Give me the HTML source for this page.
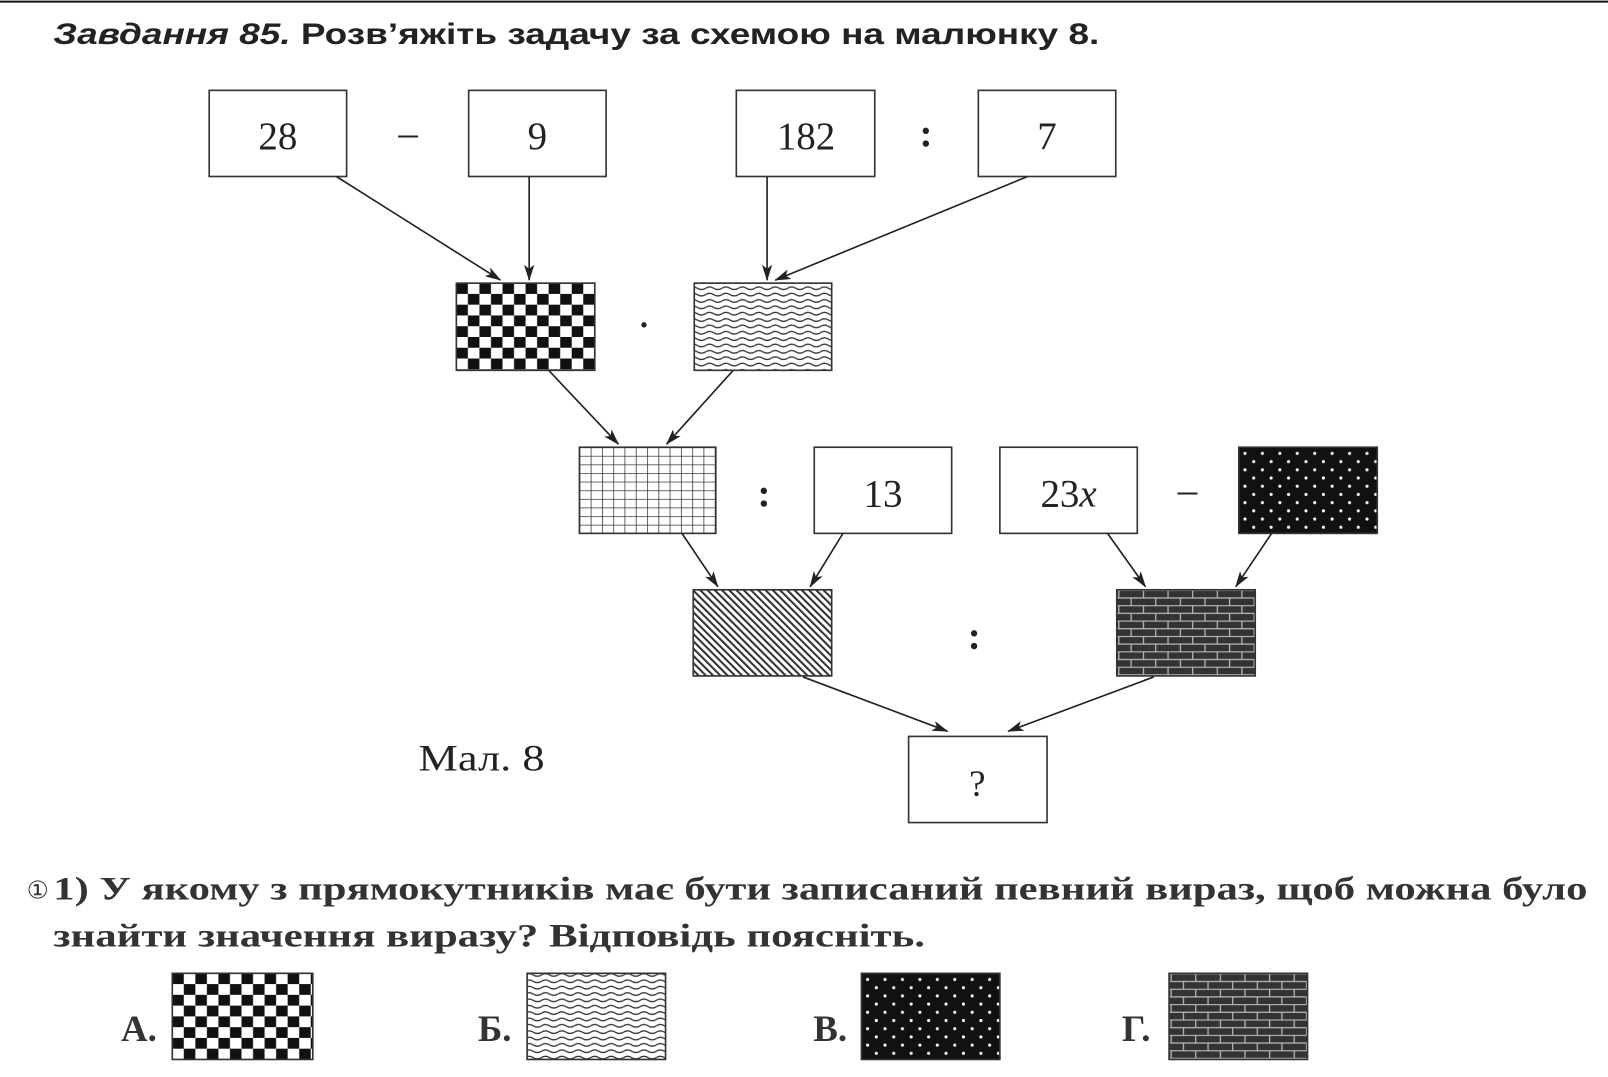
<!DOCTYPE html>
<html><head><meta charset="utf-8"><style>html,body{margin:0;padding:0;background:#fff}svg{display:block}</style></head><body>
<svg width="1608" height="1077" viewBox="0 0 1568 1050" xmlns="http://www.w3.org/2000/svg">
<defs>
<pattern id="chk" width="22.5" height="21" patternUnits="userSpaceOnUse" x="445" y="276">
<rect width="22.5" height="21" fill="#fff"/><rect width="11.25" height="10.5" fill="#111"/><rect x="11.25" y="10.5" width="11.25" height="10.5" fill="#111"/></pattern>
<pattern id="chk2" width="22.5" height="21" patternUnits="userSpaceOnUse" x="168" y="949">
<rect width="22.5" height="21" fill="#fff"/><rect width="11.25" height="10.5" fill="#111"/><rect x="11.25" y="10.5" width="11.25" height="10.5" fill="#111"/></pattern>
<pattern id="wav" width="16" height="6.2" patternUnits="userSpaceOnUse" y="278">
<rect width="16" height="6.2" fill="#fff"/><path d="M0 3 Q4 0.5 8 3 T16 3" fill="none" stroke="#333" stroke-width="1.3"/></pattern>
<pattern id="grd" width="11" height="8.4" patternUnits="userSpaceOnUse" x="565" y="436">
<rect width="11" height="8.4" fill="#fff"/><path d="M0 0H11M0 0V8.4" stroke="#333" stroke-width="1.5"/></pattern>
<pattern id="hat" width="5" height="5" patternUnits="userSpaceOnUse" patternTransform="rotate(-45)">
<rect width="5" height="5" fill="#fff"/><rect width="2" height="5" fill="#333"/></pattern>
<pattern id="dot" width="17" height="16" patternUnits="userSpaceOnUse" x="1208" y="436">
<rect width="17" height="16" fill="#111"/><circle cx="6" cy="6" r="1.5" fill="#fff"/><circle cx="14.5" cy="14" r="1.5" fill="#fff"/></pattern>
<pattern id="dot2" width="17" height="16" patternUnits="userSpaceOnUse" x="840" y="949">
<rect width="17" height="16" fill="#111"/><circle cx="6" cy="6" r="1.5" fill="#fff"/><circle cx="14.5" cy="14" r="1.5" fill="#fff"/></pattern>
<pattern id="brk" width="24" height="15" patternUnits="userSpaceOnUse" x="1089" y="575">
<rect width="24" height="15" fill="#333"/><path d="M0 0.5H24M0 8H24M2 0.5V8M14 8V15" stroke="#bbb" stroke-width="1.2"/></pattern>
<pattern id="brk2" width="24" height="15" patternUnits="userSpaceOnUse" x="1140" y="949">
<rect width="24" height="15" fill="#333"/><path d="M0 0.5H24M0 8H24M2 0.5V8M14 8V15" stroke="#bbb" stroke-width="1.2"/></pattern>
<marker id="ar" markerWidth="16" markerHeight="10" refX="15" refY="5" orient="auto" markerUnits="userSpaceOnUse"><path d="M0 0L16 5L0 10L4 5Z" fill="#222"/></marker>
</defs>
<line x1="0" y1="1.5" x2="1568" y2="1.5" stroke="#111" stroke-width="2"/>
<text x="52" y="43" font-family="Liberation Sans, sans-serif" font-weight="bold" font-size="29" fill="#222" textLength="1020" lengthAdjust="spacingAndGlyphs"><tspan font-style="italic">Завдання 85.</tspan> Розв’яжіть задачу за схемою на малюнку 8.</text>
<g fill="#fff" stroke="#333" stroke-width="1.6">
<rect x="204" y="88" width="134" height="84"/><rect x="457" y="88" width="134" height="84"/>
<rect x="718" y="88" width="135" height="84"/><rect x="954" y="88" width="134" height="84"/>
<rect x="445" y="276" width="135" height="85" fill="url(#chk)"/><rect x="677" y="276" width="134" height="85" fill="url(#wav)"/>
<rect x="565" y="436" width="133" height="84" fill="url(#grd)"/><rect x="794" y="436" width="134" height="84"/>
<rect x="975" y="436" width="134" height="84"/><rect x="1208" y="436" width="135" height="84" fill="url(#dot)"/>
<rect x="676" y="575" width="135" height="84" fill="url(#hat)"/><rect x="1089" y="575" width="135" height="84" fill="url(#brk)"/>
<rect x="886" y="718" width="135" height="84"/>
<rect x="168" y="949" width="137" height="84" fill="url(#chk2)"/><rect x="514" y="949" width="135" height="84" fill="url(#wav)"/>
<rect x="840" y="949" width="135" height="84" fill="url(#dot2)"/><rect x="1140" y="949" width="135" height="84" fill="url(#brk2)"/>
</g>
<g stroke="#222" stroke-width="1.6" marker-end="url(#ar)">
<line x1="328" y1="172" x2="488" y2="273"/><line x1="516" y1="172" x2="516" y2="273"/>
<line x1="748" y1="172" x2="748" y2="273"/><line x1="1002" y1="172" x2="756" y2="273"/>
<line x1="535" y1="361" x2="603" y2="433"/><line x1="715" y1="361" x2="650" y2="433"/>
<line x1="665" y1="520" x2="700" y2="572"/><line x1="822" y1="520" x2="790" y2="572"/>
<line x1="1080" y1="520" x2="1117" y2="572"/><line x1="1240" y1="520" x2="1205" y2="572"/>
<line x1="783" y1="660" x2="924" y2="713"/><line x1="1125" y1="660" x2="983" y2="713"/>
</g>
<g font-family="Liberation Serif, serif" font-size="38" fill="#222" text-anchor="middle">
<text x="271" y="145">28</text><text x="524" y="145">9</text><text x="786" y="145">182</text><text x="1021" y="145">7</text>
<text x="398" y="142">–</text><text x="903" y="143" font-weight="bold">:</text>
<text x="628" y="327" font-size="32" font-weight="bold">·</text>
<text x="745" y="494" font-weight="bold">:</text><text x="861" y="494">13</text><text x="1042" y="494">23<tspan font-style="italic">x</tspan></text><text x="1158" y="490">–</text>
<text x="950" y="633" font-weight="bold">:</text><text x="953" y="776" font-size="36">?</text>
</g>
<text x="408" y="751" font-family="Liberation Serif, serif" font-size="36" fill="#222" textLength="123" lengthAdjust="spacingAndGlyphs">Мал. 8</text>
<g font-family="Liberation Serif, serif" font-size="32" font-weight="bold" fill="#333">
<text x="26" y="876" font-weight="normal" font-family="DejaVu Sans, sans-serif" font-size="24">①</text>
<text x="52" y="877" textLength="1496" lengthAdjust="spacingAndGlyphs">1) У якому з прямокутників має бути записаний певний вираз, щоб можна було</text>
<text x="52" y="923" textLength="850" lengthAdjust="spacingAndGlyphs">знайти значення виразу? Відповідь поясніть.</text>
<text x="118" y="1015" font-size="36">А.</text><text x="466" y="1015" font-size="36">Б.</text>
<text x="793" y="1015" font-size="36">В.</text><text x="1094" y="1015" font-size="36">Г.</text>
</g>
</svg>
</body></html>
